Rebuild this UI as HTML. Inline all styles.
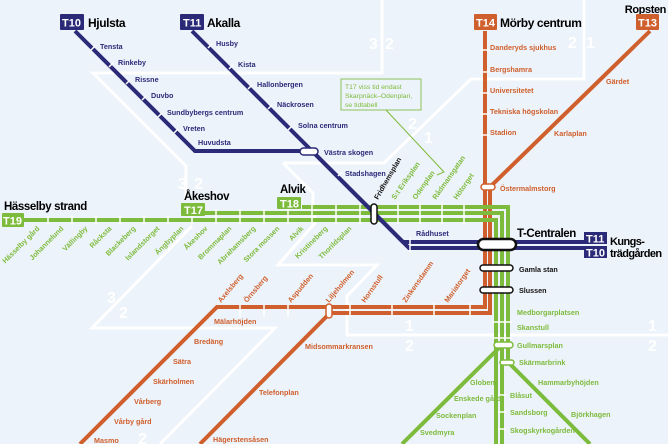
<!DOCTYPE html>
<html><head><meta charset="utf-8"><style>
html,body{margin:0;padding:0;background:#edf3fa}
svg{display:block}
text{font-family:"Liberation Sans",sans-serif;font-weight:bold}
.b{fill:#2b2a78;font-size:7.2px}
.o{fill:#cf5f2c;font-size:7.2px}
.g{fill:#7dbb3c;font-size:7.2px}
.k{fill:#111;font-size:7.2px}
.z{fill:#fff;font-size:16px;font-weight:bold}
.h{font-size:12px;letter-spacing:-0.4px}
</style></head><body>
<svg width="668" height="444" viewBox="0 0 668 444" xmlns="http://www.w3.org/2000/svg">
<rect width="668" height="444" fill="#edf3fa"/>
<g fill="none" stroke="#fff" stroke-width="3">
<path d="M382,0 V73 H93 L186,166 V200"/>
<path d="M283,163 L313,193 V205"/>
<path d="M283,163 H384 L471,79 H584 V0"/>
<path d="M192,226 L92,328 H275 L160,444"/>
<path d="M315,210 V223 L278,265 H377 L347,296 V335 H668"/>
</g>
<text class="z" x="178" y="189">3</text><text class="z" x="194" y="189">2</text>
<text class="z" x="369" y="49">3</text><text class="z" x="385" y="49">2</text>
<text class="z" x="568" y="48">2</text><text class="z" x="586" y="48">1</text>
<text class="z" x="408" y="129">2</text><text class="z" x="424" y="143">1</text>
<text class="z" x="107" y="303">3</text><text class="z" x="119" y="318">2</text>
<text class="z" x="405" y="331">1</text><text class="z" x="405" y="351">2</text>
<text class="z" x="648" y="331">1</text><text class="z" x="648" y="351">2</text>
<text class="z" x="138" y="444">2</text>
<rect x="341" y="79" width="80" height="31" fill="#edf3fa" stroke="#8cc25a" stroke-width="1"/>
<text x="345" y="89" style="font-size:6.8px;font-weight:normal;fill:#7dbb3c">T17 viss tid endast</text>
<text x="345" y="98" style="font-size:6.8px;font-weight:normal;fill:#7dbb3c">Skarpnäck–Odenplan,</text>
<text x="345" y="107" style="font-size:6.8px;font-weight:normal;fill:#7dbb3c">se tidtabell</text>
<path d="M386,110 L444,172 L437,175" fill="none" stroke="#7dbb3c" stroke-width="1"/>
<g fill="none" stroke="#cf5f2c" stroke-width="4">
<path d="M485,31 V307 H217 L80,444"/>
<path d="M650,31 L490,187 V313 H330 L200,444"/>
</g>
<g fill="none" stroke="#7dbb3c" stroke-width="4">
<path d="M24,220 H496 V444"/>
<path d="M205,213 H502 V444"/>
<path d="M302,207 H508 V362 L590,444"/>
<path d="M502,345 L402,444"/>
</g>
<g fill="none" stroke="#2b2a78" stroke-width="4">
<path d="M75,31 L195,151 H312 L403,242 H585"/>
<path d="M192,31 L312,151 L409,248 H585"/>
</g>
<g stroke="#fff" stroke-width="1.5">
<path d="M48,216V224M72,216V224M96,216V224M120,216V224M144,216V224M168,216V224M192,216V224M216,209V224M240,209V224M264,209V224M288,209V224M312,203V224M336,203V224M360,203V224M398,203V224M420,203V224M442,203V224M464,203V224"/>
<path d="M240,303V317M264,303V317M288,303V317M350,303V317M392,303V317M434,303V317M470,303V317"/>
<path d="M492,322H512M492,338H512M498,395H506M498,412H506M498,429H506"/>
<path d="M481,50H489M481,72H489M481,93H489M481,114H489M481,135H489"/>
<path d="M95,46l-4,4M113,63l-4,4M130,80l-4,4M146,96l-4,4M162,113l-4,4M178,129l-4,4M212,44l-4,4M233,65l-4,4M252,85l-4,4M272,105l-4,4M292,126l-4,4M342,172l-4,4"/>
<path d="M410,238V252"/>
</g>
<g stroke-width="1.5" fill="#fff">
<rect x="300" y="148" width="18" height="7" rx="3.5" stroke="#2b2a78"/>
<rect x="371" y="204" width="6" height="20" rx="3" stroke="#111"/>
<rect x="478" y="239" width="38" height="11" rx="5.5" stroke="#111" stroke-width="2.5"/>
<rect x="480" y="265" width="33" height="6" rx="3" stroke="#111"/>
<rect x="480" y="287" width="33" height="6" rx="3" stroke="#111"/>
<rect x="481" y="184" width="14" height="6" rx="3" stroke="#cf5f2c"/>
<rect x="326" y="304" width="6" height="14" rx="3" stroke="#cf5f2c"/>
<rect x="494" y="342" width="19" height="6" rx="3" stroke="#7dbb3c"/>
<rect x="500" y="360" width="14" height="5" rx="2.5" stroke="#7dbb3c"/>
</g>
<g style="font-size:11px">
<rect x="60" y="14" width="24" height="16" rx="1" fill="#2b2a78"/><text x="62" y="26.5" fill="#fff">T10</text>
<text class="h" x="88" y="27">Hjulsta</text>
<rect x="180" y="14" width="24" height="16" rx="1" fill="#2b2a78"/><text x="183" y="26.5" fill="#fff">T11</text>
<text class="h" x="207" y="27">Akalla</text>
<rect x="474" y="14" width="23" height="16" rx="1" fill="#cf5f2c"/><text x="476" y="26.5" fill="#fff">T14</text>
<text class="h" x="500" y="27">Mörby centrum</text>
<text class="h" x="666" y="13" text-anchor="end" style="font-size:11px">Ropsten</text>
<rect x="636" y="14" width="23" height="16" rx="1" fill="#cf5f2c"/><text x="638" y="26.5" fill="#fff">T13</text>
<text class="h" x="4" y="210" style="font-size:11.5px">Hässelby strand</text>
<rect x="2" y="213" width="22" height="14" rx="1" fill="#7dbb3c"/><text x="3" y="224.5" fill="#fff">T19</text>
<text class="h" x="184" y="200" style="font-size:11.5px">Åkeshov</text>
<rect x="181" y="203" width="24" height="13" rx="1" fill="#7dbb3c"/><text x="184" y="214" fill="#fff">T17</text>
<text class="h" x="280" y="193" style="font-size:11.5px">Alvik</text>
<rect x="277" y="197" width="24" height="12" rx="1" fill="#7dbb3c"/><text x="280" y="207.5" fill="#fff">T18</text>
<text class="h" x="517" y="237" style="font-size:11.5px">T-Centralen</text>
<rect x="584" y="232" width="23" height="12" fill="#2b2a78"/><text x="586" y="242.5" fill="#fff">T11</text>
<rect x="584" y="246" width="23" height="12" fill="#2b2a78"/><text x="586" y="256.5" fill="#fff">T10</text>
<text class="h" x="610" y="245" style="font-size:11px;letter-spacing:-0.6px">Kungs-</text>
<text class="h" x="610" y="257" style="font-size:11px;letter-spacing:-0.6px">trädgården</text>
</g>
<text class="b" x="100" y="49">Tensta</text><text class="b" x="118" y="65">Rinkeby</text>
<text class="b" x="135" y="82">Rissne</text><text class="b" x="151" y="98">Duvbo</text>
<text class="b" x="167" y="115">Sundbybergs centrum</text><text class="b" x="183" y="131">Vreten</text>
<text class="b" x="198" y="145">Huvudsta</text>
<text class="b" x="216" y="46">Husby</text><text class="b" x="238" y="67">Kista</text>
<text class="b" x="257" y="87">Hallonbergen</text><text class="b" x="277" y="107">Näckrosen</text>
<text class="b" x="298" y="128">Solna centrum</text><text class="b" x="324" y="155">Västra skogen</text>
<text class="b" x="345" y="176">Stadshagen</text><text class="b" x="416" y="236">Rådhuset</text>
<text class="k" transform="translate(378,200) rotate(-60)">Fridhemsplan</text>
<g class="g">
<text transform="translate(395,200) rotate(-55)">S:t Eriksplan</text>
<text transform="translate(416,200) rotate(-55)">Odenplan</text>
<text transform="translate(436,200) rotate(-55)">Rådmansgatan</text>
<text transform="translate(457,200) rotate(-55)">Hötorget</text>
</g>
<g class="g" text-anchor="end">
<text transform="translate(40,229) rotate(-45)">Hässelby gård</text>
<text transform="translate(64,229) rotate(-45)">Johannelund</text>
<text transform="translate(88,229) rotate(-45)">Vällingby</text>
<text transform="translate(112,229) rotate(-45)">Råcksta</text>
<text transform="translate(136,229) rotate(-45)">Blackeberg</text>
<text transform="translate(160,229) rotate(-45)">Islandstorget</text>
<text transform="translate(184,229) rotate(-45)">Ängbyplan</text>
<text transform="translate(208,229) rotate(-45)">Åkeshov</text>
<text transform="translate(232,229) rotate(-45)">Brommaplan</text>
<text transform="translate(256,229) rotate(-45)">Abrahamsberg</text>
<text transform="translate(280,229) rotate(-45)">Stora mossen</text>
<text transform="translate(304,229) rotate(-45)">Alvik</text>
<text transform="translate(328,229) rotate(-45)">Kristineberg</text>
<text transform="translate(352,229) rotate(-45)">Thorildsplan</text>
</g>
<g class="o">
<text transform="translate(221,303) rotate(-50)">Axelsberg</text>
<text transform="translate(247,303) rotate(-50)">Örnsberg</text>
<text transform="translate(291,303) rotate(-50)">Aspudden</text>
<text transform="translate(329,303) rotate(-50)">Liljeholmen</text>
<text transform="translate(365,303) rotate(-55)">Hornstull</text>
<text transform="translate(406,303) rotate(-55)">Zinkensdamm</text>
<text transform="translate(448,303) rotate(-55)">Mariatorget</text>
</g>
<text class="o" x="490" y="50">Danderyds sjukhus</text><text class="o" x="490" y="72">Bergshamra</text>
<text class="o" x="490" y="93">Universitetet</text><text class="o" x="490" y="114">Tekniska högskolan</text>
<text class="o" x="490" y="135">Stadion</text><text class="o" x="606" y="84">Gärdet</text>
<text class="o" x="554" y="136">Karlaplan</text><text class="o" x="500" y="191">Östermalmstorg</text>
<text class="o" x="214" y="324">Mälarhöjden</text>
<text class="o" x="194" y="344">Bredäng</text><text class="o" x="173" y="364">Sätra</text>
<text class="o" x="153" y="384">Skärholmen</text><text class="o" x="134" y="404">Vårberg</text>
<text class="o" x="114" y="424">Vårby gård</text><text class="o" x="94" y="443">Masmo</text>
<text class="o" x="305" y="349">Midsommarkransen</text><text class="o" x="259" y="395">Telefonplan</text>
<text class="o" x="213" y="442">Hägerstensåsen</text>
<text class="k" x="519" y="272">Gamla stan</text><text class="k" x="519" y="293">Slussen</text>
<text class="g" x="517" y="315">Medborgarplatsen</text><text class="g" x="517" y="330">Skanstull</text>
<text class="g" x="517" y="348">Gullmarsplan</text><text class="g" x="519" y="365">Skärmarbrink</text>
<text class="g" x="470" y="385">Globen</text><text class="g" x="454" y="401">Enskede gård</text>
<text class="g" x="436" y="418">Sockenplan</text><text class="g" x="420" y="435">Svedmyra</text>
<text class="g" x="510" y="398">Blåsut</text><text class="g" x="510" y="415">Sandsborg</text>
<text class="g" x="510" y="433">Skogskyrkogården</text>
<text class="g" x="538" y="385">Hammarbyhöjden</text><text class="g" x="571" y="417">Björkhagen</text>
</svg>
</body></html>
